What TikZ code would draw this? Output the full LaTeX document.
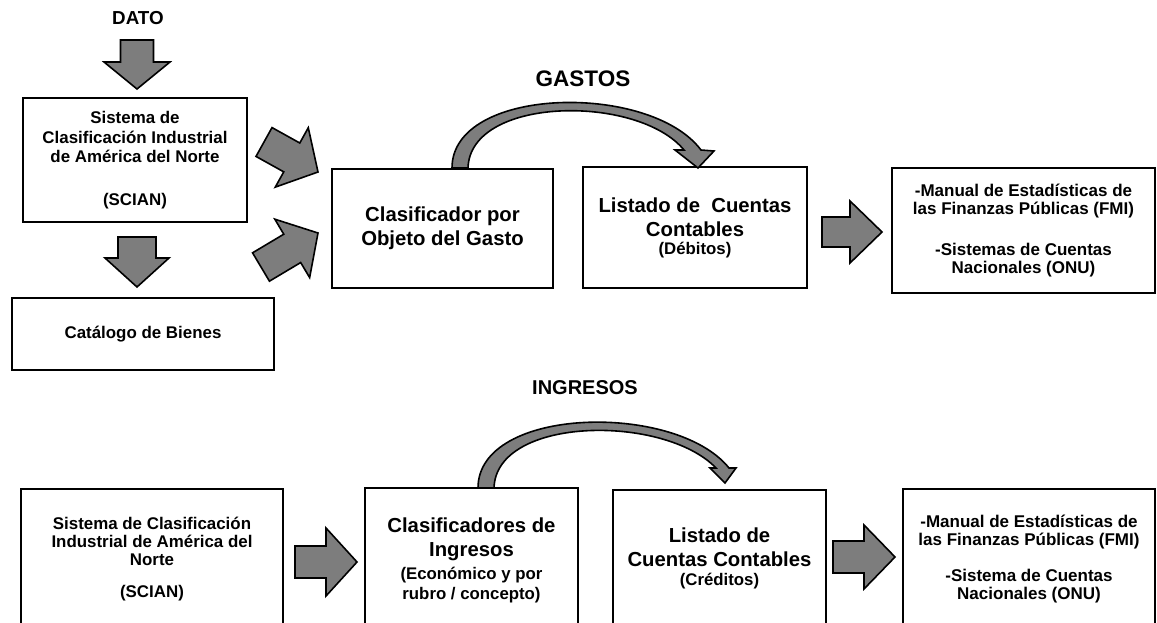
\documentclass[tikz,border=0pt]{standalone}
\usepackage{fontspec}
\setmainfont{Liberation Sans}
\usetikzlibrary{calc}
\definecolor{agray}{RGB}{125,125,125}
\newcommand{\fnorm}{\fontsize{16.9}{19.5}\selectfont\bfseries}
\newcommand{\fttl}{\fontsize{20.3}{24}\selectfont\bfseries}
\newcommand{\fsub}{\fontsize{16.8}{18.5}\selectfont\bfseries}
\newcommand{\blockarrow}[5]{%
  \filldraw[barrow] let \p1=($(#2)-(#1)$), \n1={atan2(\y1,\x1)}, \n2={veclen(\x1,\y1)} in
   ($(#1)+(\n1+90:#3pt)$) -- ($(#1)+(\n1:\n2-#5pt)+(\n1+90:#3pt)$) -- ($(#1)+(\n1:\n2-#5pt)+(\n1+90:#4pt)$) -- (#2) -- ($(#1)+(\n1:\n2-#5pt)+(\n1-90:#4pt)$) -- ($(#1)+(\n1:\n2-#5pt)+(\n1-90:#3pt)$) -- ($(#1)+(\n1-90:#3pt)$) -- cycle;}
\tikzset{
  box/.style={draw=black, line width=2.6pt, fill=white, inner sep=0pt, align=center, font=\fnorm},
  barrow/.style={draw=black, fill=agray, line width=1.6pt, line join=miter},
  heading/.style={inner sep=0pt, font=\bfseries}
}
\begin{document}
\begin{tikzpicture}[x=1pt, y=-1pt]
\useasboundingbox (0,0) rectangle (1157,623);
\clip (0,0) rectangle (1157,623);
\fill[white] (0,0) rectangle (1157,623);

% headings
\node[heading, font=\fontsize{18.8}{22}\selectfont\bfseries] (dato) at (138,18) {DATO};
\node[heading, font=\fontsize{22.5}{26}\selectfont\bfseries] (gastos) at (583,79) {GASTOS};
\node[heading, font=\fontsize{20}{24}\selectfont\bfseries] (ingresos) at (585,388) {INGRESOS};

% top row boxes
\node[box, minimum width=224pt, minimum height=124pt] (scian) at (135,160)
  {Sistema de\\Clasificación Industrial\\de América del Norte\\[23pt](SCIAN)};
\node[box, minimum width=262pt, minimum height=72pt] (catalogo) at (143,334)
  {Catálogo de Bienes};
\node[box, minimum width=221pt, minimum height=119pt, font=\fttl] (clasif) at (442.5,228.5)
  {Clasificador por\\Objeto del Gasto};
\node[box, minimum width=224pt, minimum height=121pt, font=\fttl] (listado) at (695,227.5)
  {Listado de\ \ Cuentas\\Contables\\[-6pt]\fsub (Débitos)};
\node[box, minimum width=263pt, minimum height=125pt, font=\fontsize{17}{17.5}\selectfont\bfseries] (manual) at (1023.5,230.5)
  {-Manual de Estadísticas de\\las Finanzas Públicas (FMI)\\[24pt]-Sistemas de Cuentas\\Nacionales (ONU)};

% bottom row boxes
\node[box, minimum width=262pt, minimum height=141pt, font=\fontsize{16.9}{18}\selectfont\bfseries] (scianb) at (152,559.5)
  {Sistema de Clasificación\\Industrial de América del\\Norte\\[14pt](SCIAN)};
\node[box, minimum width=213pt, minimum height=144pt, font=\fttl] (clasifb) at (471.5,560)
  {Clasificadores de\\Ingresos\\[-1pt]\fsub (Económico y por\\[-4pt]\fsub rubro / concepto)};
\node[box, minimum width=213pt, minimum height=136pt, font=\fttl] (listadob) at (719.5,558)
  {Listado de\\Cuentas Contables\\[-5pt]\fsub (Créditos)};
\node[box, minimum width=252pt, minimum height=140pt, font=\fontsize{17}{17.5}\selectfont\bfseries] (manualb) at (1029,559)
  {-Manual de Estadísticas de\\las Finanzas Públicas (FMI)\\[19pt]-Sistema de Cuentas\\Nacionales (ONU)};

% block arrows
\coordinate (a1s) at (137,40);  \coordinate (a1e) at (137,89);
\coordinate (a2s) at (137,237); \coordinate (a2e) at (137,287);
\coordinate (a3s) at (264,142); \coordinate (a3e) at (318,172);
\coordinate (a4s) at (261,267); \coordinate (a4e) at (318,233);
\coordinate (a5s) at (822,232); \coordinate (a5e) at (882,232);
\coordinate (b1s) at (295,562); \coordinate (b1e) at (357,562);
\coordinate (b2s) at (833,557); \coordinate (b2e) at (895,557);
\blockarrow{a1s}{a1e}{16.5}{33}{27}
\blockarrow{a2s}{a2e}{19}{32}{29}
\blockarrow{a3s}{a3e}{16.5}{34}{30}
\blockarrow{a4s}{a4e}{16.5}{34}{30}
\blockarrow{a5s}{a5e}{15}{31}{32}
\blockarrow{b1s}{b1e}{16}{34}{31}
\blockarrow{b2s}{b2e}{16}{32}{31}

% curved arrows
\filldraw[barrow] (452,168) .. controls (452,86) and (650,82) .. (701,150)
  -- (714,151) -- (698,168) -- (675,150) -- (684,150)
  .. controls (638,94) and (470,96) .. (468,168) -- cycle;
\filldraw[barrow] (478,488) .. controls (478,406) and (676,402) .. (729,468)
  -- (736,468) -- (725,483) -- (710,468) -- (716,468)
  .. controls (664,414) and (496,416) .. (494,488) -- cycle;
\end{tikzpicture}
\end{document}
